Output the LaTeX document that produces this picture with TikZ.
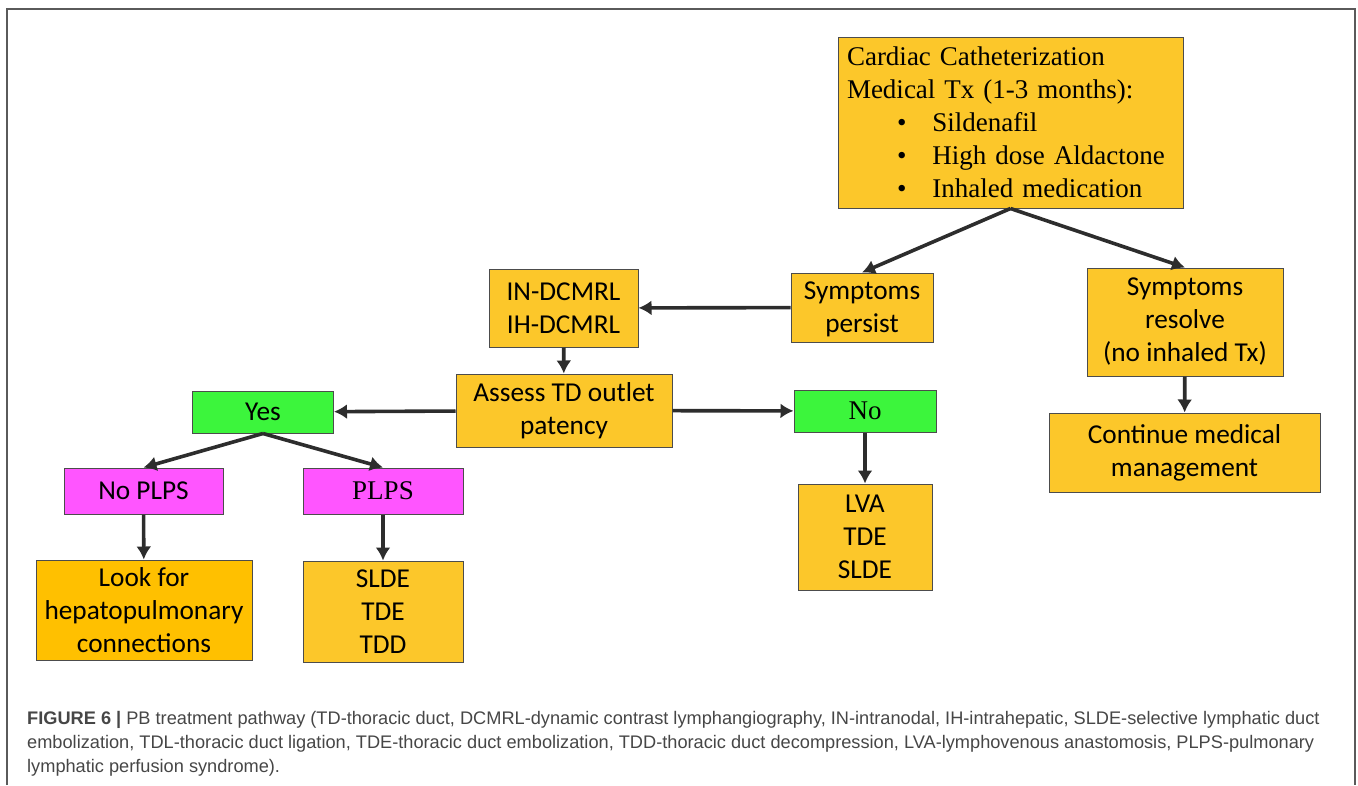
\documentclass[tikz,border=0pt]{standalone}
\usepackage{fontspec}
\usepackage{amsmath, amssymb}
\usetikzlibrary{positioning,arrows.meta}
\setmainfont{Liberation Serif}
\newfontfamily\calib{Carlito}
\newfontfamily\capfont{Liberation Sans}
\definecolor{boxorange}{RGB}{252,199,42}
\definecolor{lookorange}{RGB}{255,192,0}
\definecolor{boxgreen}{RGB}{60,245,60}
\definecolor{boxpink}{RGB}{255,85,255}
\definecolor{arrowgray}{RGB}{45,45,45}
\definecolor{framegray}{RGB}{90,90,90}
\definecolor{capgray}{RGB}{70,70,70}

\begin{document}
\begin{tikzpicture}[x=1pt,y=-1pt]
\tikzstyle{main}=[rectangle, draw=black!70, line width=1pt, fill=boxorange, align=center, inner sep=0pt, font=\calib\fontsize{27.3}{33}\selectfont]
\tikzstyle{choice}=[main, fill=boxgreen]
\tikzstyle{plps}=[main, fill=boxpink]
\tikzstyle{serif}=[font=\rmfamily\fontsize{27}{33}\selectfont]
\tikzstyle{connect}=[-{Latex[length=13pt,width=15pt]}, line width=3.6pt, draw=arrowgray]
\useasboundingbox (0,0) rectangle (1358,785);
\draw[framegray, line width=1.5pt] (7,785) -- (7,9) -- (1355,9) -- (1355,785);
  \node[main, serif, minimum width=345pt, minimum height=171pt, text width=327pt, inner xsep=9pt, align=left] (cath) at (1010.5,122.5) {%
    Cardiac Catheterization\\
    Medical Tx (1-3 months):\\
    \hspace{50pt}\textbullet\hspace{26pt}Sildenafil\\
    \hspace{50pt}\textbullet\hspace{26pt}High dose Aldactone\\
    \hspace{50pt}\textbullet\hspace{26pt}Inhaled medication};
  \node[main, minimum width=142pt, minimum height=69pt, text depth=-6pt] (persist) at (862,307.5) {Symptoms\\persist};
  \node[main, minimum width=196pt, minimum height=108pt] (resolve) at (1185,322) {Symptoms\\resolve\\(no inhaled Tx)};
  \node[main, minimum width=271pt, minimum height=79pt] (cont) at (1184.5,452.5) {Continue medical\\management};
  \node[main, minimum width=149pt, minimum height=78pt] (dcmrl) at (563.5,308) {IN-DCMRL\\IH-DCMRL};
  \node[main, minimum width=216pt, minimum height=73pt] (assess) at (564,410.5) {Assess TD outlet\\patency};
  \node[choice, minimum width=141pt, minimum height=42pt] (yes) at (263,412) {Yes};
  \node[choice, serif, minimum width=142pt, minimum height=42pt] (no) at (865,411) {No};
  \node[plps, minimum width=159pt, minimum height=46pt] (noplps) at (143.5,491) {No PLPS};
  \node[plps, serif, minimum width=160pt, minimum height=46pt] (plps) at (383,491) {PLPS};
  \node[main, fill=lookorange, minimum width=216pt, minimum height=100pt] (look) at (144,610) {Look for\\hepatopulmonary\\connections};
  \node[main, minimum width=160pt, minimum height=101pt] (treat) at (383,611.5) {SLDE\\TDE\\TDD};
  \node[main, minimum width=134pt, minimum height=106pt] (lva) at (865,537) {LVA\\TDE\\SLDE};
  \path
        (cath.south) edge [connect] (persist.north)
        (cath.south) edge [connect] (resolve.north)
        (persist) edge [connect] (dcmrl)
        (dcmrl) edge [connect] (assess)
        (assess) edge [connect] (yes)
        (assess) edge [connect] (no)
        (yes.south) edge [connect] (noplps.north)
        (yes.south) edge [connect] (plps.north)
        (noplps) edge [connect] (look)
        (plps) edge [connect] (treat)
        (no) edge [connect] (lva)
        (resolve) edge [connect] (cont);
  \node[anchor=north west, align=left, text=capgray, inner sep=0pt, font=\capfont\fontsize{18.2}{24}\selectfont] (caption) at (27,711) {%
    \textbf{FIGURE 6 |} PB treatment pathway (TD-thoracic duct, DCMRL-dynamic contrast lymphangiography, IN-intranodal, IH-intrahepatic, SLDE-selective lymphatic duct\\
    embolization, TDL-thoracic duct ligation, TDE-thoracic duct embolization, TDD-thoracic duct decompression, LVA-lymphovenous anastomosis, PLPS-pulmonary\\
    lymphatic perfusion syndrome).};
\end{tikzpicture}
\end{document}
